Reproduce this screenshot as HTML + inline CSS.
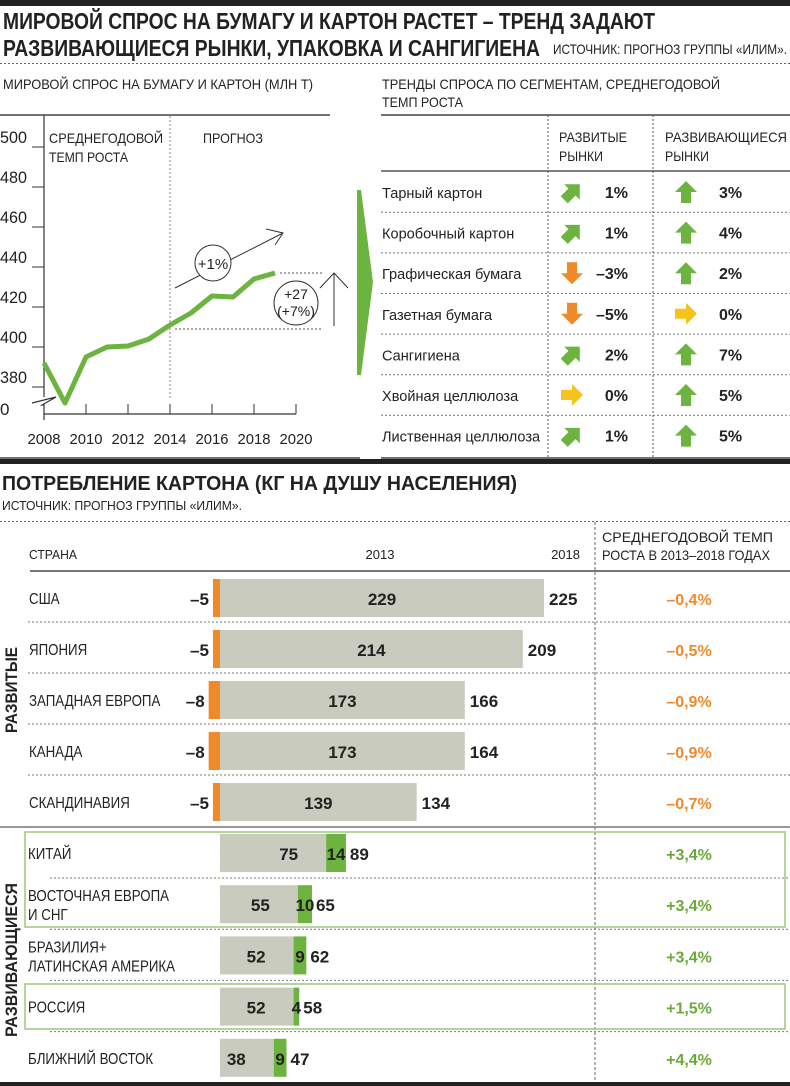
<!DOCTYPE html>
<html><head><meta charset="utf-8"><style>
html,body{margin:0;padding:0;background:#fff}
svg{display:block}
text{font-family:"Liberation Sans","DejaVu Sans",sans-serif;fill:#222}
.b{font-weight:bold}
</style></head><body>
<svg id="s" width="790" height="1086" viewBox="0 0 790 1086" xmlns="http://www.w3.org/2000/svg">
<rect x="0" y="0" width="790" height="6" fill="#222"/>
<text x="3" y="29" class="b" font-size="23" textLength="652" lengthAdjust="spacingAndGlyphs">МИРОВОЙ СПРОС НА БУМАГУ И КАРТОН РАСТЕТ – ТРЕНД ЗАДАЮТ</text>
<text x="3" y="56" class="b" font-size="23" textLength="537" lengthAdjust="spacingAndGlyphs">РАЗВИВАЮЩИЕСЯ РЫНКИ, УПАКОВКА И САНГИГИЕНА</text>
<text x="553" y="54" font-size="14" textLength="234" lengthAdjust="spacingAndGlyphs">ИСТОЧНИК: ПРОГНОЗ ГРУППЫ «ИЛИМ».</text>
<line x1="0" y1="63.5" x2="790" y2="63.5" stroke="#666" stroke-dasharray="2,2"/>

<text x="3" y="89" font-size="14" textLength="310" lengthAdjust="spacingAndGlyphs">МИРОВОЙ СПРОС НА БУМАГУ И КАРТОН (МЛН Т)</text>
<line x1="0" y1="115" x2="330" y2="115" stroke="#444" stroke-width="1.5"/>
<text x="49" y="143" font-size="14" textLength="114" lengthAdjust="spacingAndGlyphs">СРЕДНЕГОДОВОЙ</text>
<text x="49" y="162" font-size="14" textLength="79" lengthAdjust="spacingAndGlyphs">ТЕМП РОСТА</text>
<text x="203" y="143" font-size="14" textLength="60" lengthAdjust="spacingAndGlyphs">ПРОГНОЗ</text>
<g id="lineChart"></g>
<line x1="0" y1="458" x2="360" y2="458" stroke="#444" stroke-width="1.5"/>

<polygon points="357,190 361,190 373,282 361,375 357,375" fill="#6db33f"/>

<text x="382" y="89" font-size="14" textLength="338" lengthAdjust="spacingAndGlyphs">ТРЕНДЫ СПРОСА ПО СЕГМЕНТАМ, СРЕДНЕГОДОВОЙ</text>
<text x="382" y="107" font-size="14" textLength="81" lengthAdjust="spacingAndGlyphs">ТЕМП РОСТА</text>
<line x1="381" y1="115" x2="790" y2="115" stroke="#444" stroke-width="1.5"/>
<text x="559" y="142" font-size="14" textLength="68" lengthAdjust="spacingAndGlyphs">РАЗВИТЫЕ</text>
<text x="559" y="161" font-size="14" textLength="44" lengthAdjust="spacingAndGlyphs">РЫНКИ</text>
<text x="665" y="142" font-size="14" textLength="122" lengthAdjust="spacingAndGlyphs">РАЗВИВАЮЩИЕСЯ</text>
<text x="665" y="161" font-size="14" textLength="44" lengthAdjust="spacingAndGlyphs">РЫНКИ</text>
<line x1="381" y1="171" x2="790" y2="171" stroke="#555" stroke-width="1.5"/>
<line x1="548" y1="115" x2="548" y2="458" stroke="#555" stroke-dasharray="2,2"/>
<line x1="653" y1="115" x2="653" y2="458" stroke="#555" stroke-dasharray="2,2"/>
<line x1="381" y1="458" x2="790" y2="458" stroke="#444" stroke-width="1.5"/>
<g id="trends"></g>

<rect x="0" y="459" width="790" height="5" fill="#222"/>
<text x="2" y="490" class="b" font-size="20" textLength="515" lengthAdjust="spacingAndGlyphs">ПОТРЕБЛЕНИЕ КАРТОНА (КГ НА ДУШУ НАСЕЛЕНИЯ)</text>
<text x="2" y="510" font-size="13" textLength="240" lengthAdjust="spacingAndGlyphs">ИСТОЧНИК: ПРОГНОЗ ГРУППЫ «ИЛИМ».</text>
<line x1="0" y1="521.5" x2="790" y2="521.5" stroke="#666" stroke-dasharray="2,2"/>
<line x1="595" y1="522" x2="595" y2="1082" stroke="#666" stroke-dasharray="3,2"/>
<text x="29" y="559" font-size="13" textLength="48" lengthAdjust="spacingAndGlyphs">СТРАНА</text>
<text x="380" y="559" font-size="13" text-anchor="middle">2013</text>
<text x="580" y="559" font-size="13" text-anchor="end">2018</text>
<text x="602" y="542" font-size="14" textLength="171" lengthAdjust="spacingAndGlyphs">СРЕДНЕГОДОВОЙ ТЕМП</text>
<text x="602" y="560" font-size="14" textLength="168" lengthAdjust="spacingAndGlyphs">РОСТА В 2013–2018 ГОДАХ</text>
<line x1="30" y1="571" x2="790" y2="571" stroke="#777" stroke-width="2"/>
<line x1="0" y1="827" x2="790" y2="827" stroke="#777" stroke-width="1.5"/>
<rect x="25" y="832" width="760" height="95" fill="none" stroke="#9cc97a" stroke-width="1.5"/>
<rect x="25" y="984" width="760" height="45" fill="none" stroke="#9cc97a" stroke-width="1.5"/>
<text transform="translate(17,690) rotate(-90)" class="b" font-size="17" text-anchor="middle" textLength="86" lengthAdjust="spacingAndGlyphs">РАЗВИТЫЕ</text>
<text transform="translate(17,960) rotate(-90)" class="b" font-size="17" text-anchor="middle" textLength="154" lengthAdjust="spacingAndGlyphs">РАЗВИВАЮЩИЕСЯ</text>
<g id="bars"></g>
<rect x="0" y="1082" width="790" height="4" fill="#222"/>
</svg>
<script>
// ---- line chart data ----
const years = [2008,2009,2010,2011,2012,2013,2014,2015,2016,2017,2018,2019];
const demand = [392,372,395,400,400.5,404,411,417,425.5,425,434,437];
const yTicks = [500,480,460,440,420,400,380];
const xTicks = [2008,2010,2012,2014,2016,2018,2020];
// ---- trends data ----
const segments = ["Тарный картон","Коробочный картон","Графическая бумага","Газетная бумага","Сангигиена","Хвойная целлюлоза","Лиственная целлюлоза"];
const developedGrowth = [1,1,-3,-5,2,0,1];
const emergingGrowth = [3,4,2,0,7,5,5];
// ---- consumption data ----
const devCountries = ["США","ЯПОНИЯ","ЗАПАДНАЯ ЕВРОПА","КАНАДА","СКАНДИНАВИЯ"];
const dev2013 = [229,214,173,173,139];
const dev2018 = [225,209,166,164,134];
const devChange = [-5,-5,-8,-8,-5];
const devCagr = ["–0,4%","–0,5%","–0,9%","–0,9%","–0,7%"];
const emCountries = [["КИТАЙ"],["ВОСТОЧНАЯ ЕВРОПА","И СНГ"],["БРАЗИЛИЯ+","ЛАТИНСКАЯ АМЕРИКА"],["РОССИЯ"],["БЛИЖНИЙ ВОСТОК"]];
const em2013 = [75,55,52,52,38];
const em2018 = [89,65,62,58,47];
const emChange = [14,10,9,4,9];
const emCagr = ["+3,4%","+3,4%","+3,4%","+1,5%","+4,4%"];

const NS="http://www.w3.org/2000/svg";
function mk(tag,parent,attrs,name){const el=document.createElementNS(NS,tag);for(const k in attrs)el.setAttribute(k,attrs[k]);


parent.appendChild(el);return el;}
function tx(parent,x,y,str,attrs,name){const el=mk('text',parent,Object.assign({x:x,y:y},attrs||{}),name);el.textContent=str;return el;}
function squeeze(el,f){const w=el.getComputedTextLength();el.setAttribute('textLength',(w*f).toFixed(1));el.setAttribute('lengthAdjust','spacingAndGlyphs');}

// ---- line chart ----
const lc=document.getElementById('lineChart');
const xY=y=>44+(y-2008)*21;
const yV=v=>147+(500-v)*2;
mk('line',lc,{x1:44,y1:115,x2:44,y2:397,stroke:'#333','stroke-width':1.2},'y-axis');
mk('polyline',lc,{points:'32,403 56,397 42,405 44,405 44,420',fill:'none',stroke:'#333','stroke-width':1.2},'axis-break');
mk('line',lc,{x1:44,y1:414,x2:xY(2020),y2:414,stroke:'#333','stroke-width':1.2},'x-axis');
yTicks.forEach(v=>{mk('line',lc,{x1:32,y1:yV(v),x2:44,y2:yV(v),stroke:'#333','stroke-width':1},'y-tick');
tx(lc,0,yV(v)-4,String(v),{'font-size':17,textLength:27,lengthAdjust:'spacingAndGlyphs'},'y-tick-label');});
tx(lc,0,415,'0',{'font-size':17},'y-tick-label-zero');
xTicks.forEach(y=>{mk('line',lc,{x1:xY(y),y1:404,x2:xY(y),y2:414,stroke:'#333','stroke-width':1},'x-tick');
tx(lc,xY(y),444,String(y),{'font-size':15,'text-anchor':'middle',textLength:33,lengthAdjust:'spacingAndGlyphs'},'x-tick-label');});
mk('line',lc,{x1:xY(2014),y1:116,x2:xY(2014),y2:398,stroke:'#888','stroke-dasharray':'2,2'},'forecast-divider');
mk('line',lc,{x1:xY(2014)+5,y1:yV(411)+4,x2:323,y2:yV(411)+4,stroke:'#555','stroke-dasharray':'2,2'},'base-level-line');
mk('line',lc,{x1:xY(2019)+5,y1:yV(437),x2:322,y2:yV(437),stroke:'#555','stroke-dasharray':'2,2'},'target-level-line');
mk('polyline',lc,{points:years.map((y,i)=>xY(y)+','+yV(demand[i])).join(' '),fill:'none',stroke:'#6db33f','stroke-width':5,'stroke-linejoin':'round'},'demand-line');
mk('line',lc,{x1:175,y1:288,x2:283,y2:233,stroke:'#333','stroke-width':1},'trend-arrow');
mk('polyline',lc,{points:'266,229 283,233 275,245',fill:'none',stroke:'#333','stroke-width':1},'trend-arrow-head');
mk('circle',lc,{cx:213,cy:263,r:18,fill:'#fff',stroke:'#333','stroke-width':1},'growth-circle');
tx(lc,213,269,'+1%',{'font-size':15,'text-anchor':'middle'},'growth-label');
mk('line',lc,{x1:334,y1:326,x2:334,y2:273,stroke:'#333','stroke-width':1},'increase-arrow');
mk('polyline',lc,{points:'320,288 334,273 348,288',fill:'none',stroke:'#333','stroke-width':1},'increase-arrow-head');
mk('circle',lc,{cx:296,cy:303,r:22,fill:'#fff',stroke:'#333','stroke-width':1},'increase-circle');
tx(lc,296,299,'+27',{'font-size':14,'text-anchor':'middle'},'increase-abs');
tx(lc,296,316,'(+7%)',{'font-size':14,'text-anchor':'middle'},'increase-pct');

// ---- trends ----
const tr=document.getElementById('trends');
const rowY=i=>192+i*40.6;
function arrow(parent,cx,cy,dir,color,name){
  const rot={up:0,diag:45,down:180,right:90}[dir];
  mk('polygon',parent,{points:'0,-11 11,0 5,0 5,11 -5,11 -5,0 -11,0',fill:color,transform:`translate(${cx},${cy}) rotate(${rot})`},name);
}
segments.forEach((s,i)=>{
  const cy=rowY(i);
  const lab=tx(tr,382,cy+6,s,{'font-size':15},'segment-label');
  squeeze(lab,0.97);
  const d=developedGrowth[i], e=emergingGrowth[i];
  const dd=d>0?'diag':(d<0?'down':'right'), dc=d>0?'#6db33f':(d<0?'#f0892a':'#f5c31c');
  arrow(tr,572,cy,dd,dc,'developed-trend-icon');
  tx(tr,628,cy+6,(d<0?'–':'')+Math.abs(d)+'%',{'font-size':16,'class':'b','text-anchor':'end'},'developed-trend-value');
  const ed=e>0?'up':(e<0?'down':'right'), ec=e>0?'#6db33f':(e<0?'#f0892a':'#f5c31c');
  arrow(tr,686,cy,ed,ec,'emerging-trend-icon');
  tx(tr,719,cy+6,(e<0?'–':'')+Math.abs(e)+'%',{'font-size':16,'class':'b'},'emerging-trend-value');
  if(i<segments.length-1) mk('line',tr,{x1:381,y1:cy+20.3,x2:790,y2:cy+20.3,stroke:'#777','stroke-dasharray':'2,2'},'trends-row-divider');
});

// ---- consumption bars ----
const br=document.getElementById('bars');
const X0=220, K=1.415;
const bx=v=>X0+v*K;
devCountries.forEach((c,i)=>{
  const cy=598+i*51;
  const lab=tx(br,29,cy+6,c,{'font-size':16},'developed-country-label');
  squeeze(lab,0.83);
  mk('rect',br,{x:bx(devChange[i]),y:cy-19,width:bx(0)-bx(devChange[i]),height:38,fill:'#f0892a'},'decline-bar');
  mk('rect',br,{x:bx(0),y:cy-19,width:bx(dev2013[i])-bx(0),height:38,fill:'#c8cbbd'},'value-2013-bar');
  tx(br,bx(devChange[i])-4,cy+7,'–'+Math.abs(devChange[i]),{'font-size':17,'class':'b','text-anchor':'end'},'decline-label');
  tx(br,(bx(0)+bx(dev2013[i]))/2,cy+7,String(dev2013[i]),{'font-size':17,'class':'b','text-anchor':'middle'},'value-2013-label');
  tx(br,bx(dev2013[i])+5,cy+7,String(dev2018[i]),{'font-size':17,'class':'b'},'value-2018-label');
  tx(br,689,cy+7,devCagr[i],{'font-size':16,'class':'b','text-anchor':'middle',style:'fill:#f0892a'},'developed-cagr');
  if(i<devCountries.length-1) mk('line',br,{x1:28,y1:cy+24,x2:790,y2:cy+24,stroke:'#777','stroke-dasharray':'2,2'},'row-divider');
});
emCountries.forEach((c,i)=>{
  const cy=853+i*51.2;
  if(c.length===1){const l=tx(br,28,cy+6,c[0],{'font-size':16},'emerging-country-label');squeeze(l,0.83);}
  else {const l1=tx(br,28,cy-3,c[0],{'font-size':16},'emerging-country-label');squeeze(l1,0.83);
        const l2=tx(br,28,cy+16,c[1],{'font-size':16},'emerging-country-label-2');squeeze(l2,0.83);}
  mk('rect',br,{x:bx(0),y:cy-19,width:bx(em2013[i])-bx(0),height:38,fill:'#c8cbbd'},'value-2013-bar');
  mk('rect',br,{x:bx(em2013[i]),y:cy-19,width:emChange[i]*K,height:38,fill:'#6db33f'},'increase-bar');
  tx(br,bx(em2013[i])-28,cy+7,String(em2013[i]),{'font-size':17,'class':'b','text-anchor':'end'},'value-2013-label');
  tx(br,bx(em2013[i]+emChange[i]/2),cy+7,String(emChange[i]),{'font-size':17,'class':'b','text-anchor':'middle'},'increase-label');
  tx(br,bx(em2013[i]+emChange[i])+4,cy+7,String(em2018[i]),{'font-size':17,'class':'b'},'value-2018-label');
  tx(br,689,cy+7,emCagr[i],{'font-size':16,'class':'b','text-anchor':'middle',style:'fill:#6aaa3a'},'emerging-cagr');
  if(i<emCountries.length-1) mk('line',br,{x1:50,y1:cy+25,x2:790,y2:cy+25,stroke:'#777','stroke-dasharray':'2,2'},'row-divider');
});
</script>
</body></html>
